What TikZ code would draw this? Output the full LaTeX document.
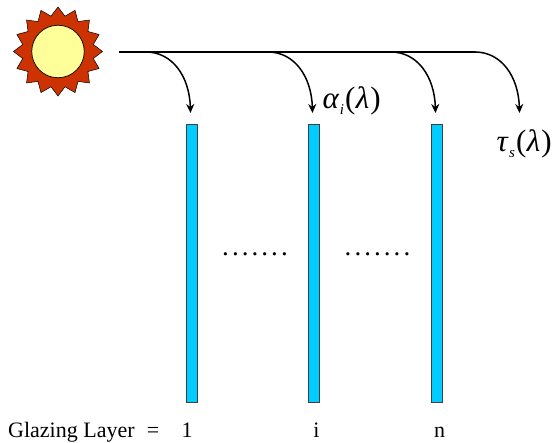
\documentclass[tikz,border=0pt]{standalone}
\usepackage{fontspec}
\setmainfont{Liberation Serif}
\usetikzlibrary{arrows.meta}
\definecolor{glazefill}{RGB}{0,204,255}
\definecolor{sunred}{RGB}{204,51,0}
\definecolor{sunyellow}{RGB}{255,255,153}
\tikzset{
  glazing/.style={draw=black!75,fill=glazefill,line width=0.7pt,minimum width=11pt,minimum height=278pt,inner sep=0pt,outer sep=0pt,anchor=north},
  beam/.style={line width=1.7pt},
  ray/.style={line width=1.5pt,-{Stealth[length=9pt,width=8pt]}},
  lbl/.style={inner sep=0pt,anchor=base,font=\fontsize{22}{24}\selectfont},
  sym/.style={inner sep=0pt,anchor=base west,font=\fontsize{31}{33}\selectfont},
  dotsl/.style={inner sep=0pt,anchor=base,font=\fontsize{27}{29}\selectfont}
}
\newcommand{\subt}[1]{\raisebox{-6pt}{\fontsize{15}{15}\selectfont\textit{#1}}}
\newcommand{\sevendots}{.\hspace{3.05pt}.\hspace{3.05pt}.\hspace{3.05pt}.\hspace{3.05pt}.\hspace{3.05pt}.\hspace{3.05pt}.}
\begin{document}
\begin{tikzpicture}[x=1pt,y=-1pt]
\useasboundingbox (0,0) rectangle (556,443);
% sun
\draw[fill=sunred,draw=black,line width=0.5pt]
  (58,7)
  \foreach \k in {0,...,15} {
    -- ({58+36*cos(90+\k*22.5+11.25)},{51.5-36*sin(90+\k*22.5+11.25)})
    -- ({58+44.5*cos(90+(\k+1)*22.5)},{51.5-44.5*sin(90+(\k+1)*22.5)})
  } -- cycle;
\node[circle,draw=black,fill=sunyellow,line width=0.7pt,minimum size=52.5pt,inner sep=0pt] (sun) at (58,51.5) {};
% glazing layers
\node[glazing] (g1) at (191.5,124) {};
\node[glazing] (gi) at (314,124) {};
\node[glazing] (gn) at (436.5,124) {};
% beam
\coordinate (bs) at (119,52);
\coordinate (be) at (476,52);
\draw[beam] (bs) -- (be);
% rays
\coordinate (r1s) at (146,52);
\coordinate (r1e) at (190.5,113);
\coordinate (r2s) at (268,52);
\coordinate (r2e) at (312.5,113);
\coordinate (r3s) at (391,52);
\coordinate (r3e) at (435.5,113);
\coordinate (r4s) at (475,52);
\coordinate (r4e) at (519.5,113);
\foreach \n in {1,2,3,4}
  \draw[ray] (r\n s) .. controls +(26,0) and +(-1,-37) .. (r\n e);
% labels
\node[sym] (ai) at (322.5,108.5) {\textit{α}\hspace{0.5pt}\subt{i}\hspace{1pt}(\hspace{0.5pt}\textit{λ}\hspace{1pt})};
\node[sym] (ts) at (496.5,152) {\textit{τ}\hspace{0.5pt}\subt{s}\hspace{1pt}(\hspace{0.5pt}\textit{λ}\hspace{1pt})};
\node[dotsl] (d1) at (255,255.5) {\sevendots};
\node[dotsl] (d2) at (377.5,255.5) {\sevendots};
\node[lbl,anchor=base west] (gl) at (8,437) {Glazing Layer};
\node[lbl] (eq) at (153,437) {=};
\node[lbl] (n1) at (187,437) {1};
\node[lbl] (n2) at (316.5,437) {i};
\node[lbl] (n3) at (439.5,437) {n};
\end{tikzpicture}
\end{document}
